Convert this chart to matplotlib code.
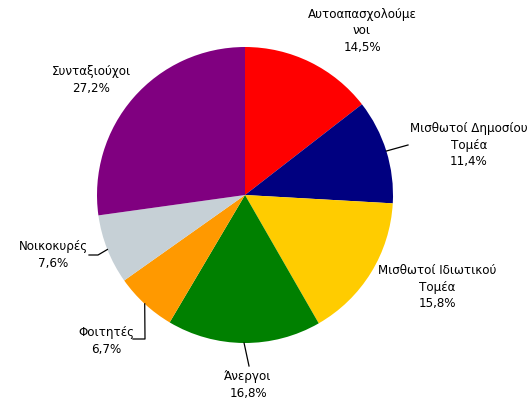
import numpy as np
import matplotlib.pyplot as plt

labels = ["Αυτοαπασχολούμε\nνοι", "Μισθωτοί Δημοσίου\nΤομέα", "Μισθωτοί Ιδιωτικού\nΤομέα",
          "Άνεργοι", "Φοιτητές", "Νοικοκυρές", "Συνταξιούχοι"]
values = [14.5, 11.4, 15.8, 16.8, 6.7, 7.6, 27.2]
colors = ["#FF0000", "#000080", "#FFCC00", "#008000", "#FF9900", "#C6D0D6", "#800080"]

# label centres in pixels (x, y from top)
label_pos = [(362, 31), (469, 145), (437, 287), (248, 385), (106, 341), (53, 255), (91, 80)]
# leader lines: end points away from the pie (None = no line)
leaders = [None, [(408, 145)], None, [(249, 366)], [(145, 339), (133, 339)],
           [(98, 255), (89, 255)], None]

H = 400
cx, cy, r = 245, 205, 148

fig = plt.figure(figsize=(5.32, 4.0), dpi=100)
ax = fig.add_axes([0, 0, 1, 1])
wedges, _ = ax.pie(values, colors=colors, startangle=90, counterclock=False,
                   center=(cx, cy), radius=r, frame=True,
                   wedgeprops=dict(linewidth=0))
ax.set_xlim(0, 532)
ax.set_ylim(0, H)
ax.set_aspect("equal")
ax.axis("off")

for w, lab, v, (px, py), ld in zip(wedges, labels, values, label_pos, leaders):
    txt = lab + "\n" + f"{v:.1f}".replace(".", ",") + "%"
    ax.text(px, H - py, txt, ha="center", va="center", fontsize=8.6,
            linespacing=1.35, color="black")
    if ld:
        ang = np.deg2rad((w.theta1 + w.theta2) / 2)
        sx = cx + r * np.cos(ang)
        sy = cy + r * np.sin(ang)
        xs = [sx] + [p[0] for p in ld]
        ys = [sy] + [H - p[1] for p in ld]
        ax.plot(xs, ys, color="black", linewidth=0.9)

plt.savefig("out.png", dpi=100)
